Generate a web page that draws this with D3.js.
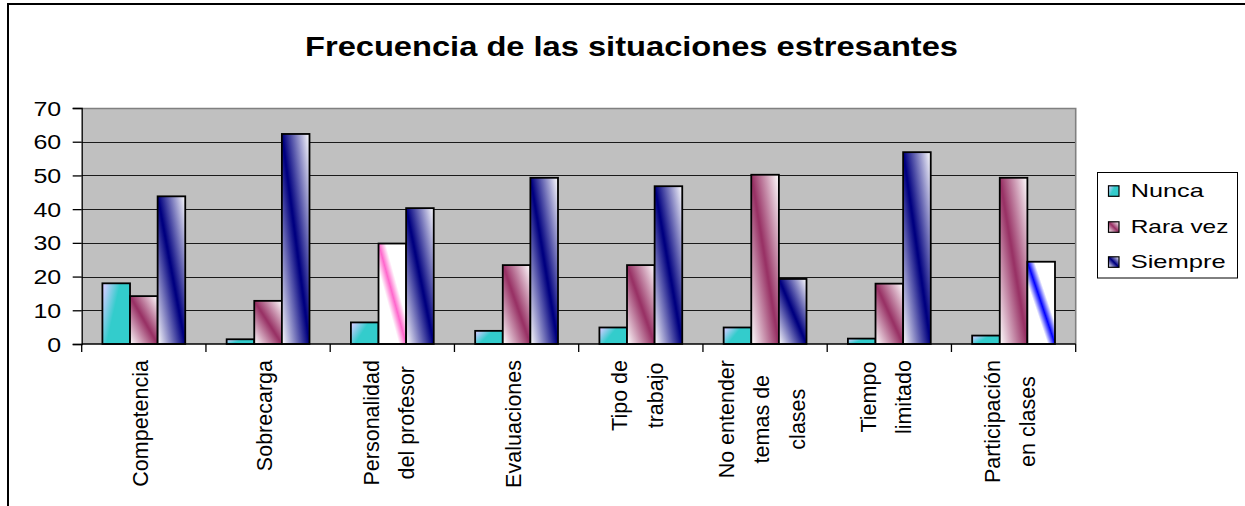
<!DOCTYPE html>
<html>
<head>
<meta charset="utf-8">
<script src="https://cdn.jsdelivr.net/npm/d3@7"></script>
<style>
  html, body { margin: 0; padding: 0; background: #fff; }
  svg { display: block; font-family: "Liberation Sans", Arial, sans-serif; }
</style>
</head>
<body>
<svg id="chart" width="1245" height="506"></svg>
<script>
// Frequency of stressful situations, by category and answer
const categories = [
  "Competencia",
  "Sobrecarga",
  "Personalidad\ndel profesor",
  "Evaluaciones",
  "Tipo de\ntrabajo",
  "No entender\ntemas de\nclases",
  "Tiempo\nlimitado",
  "Participación\nen clases"
];
const seriesNames = ["Nunca", "Rara vez", "Siempre"];
const nunca   = [18.0, 1.4, 6.4, 3.9, 4.9, 4.9, 1.6, 2.5];
const raraVez = [14.2, 12.8, 29.8, 23.4, 23.4, 50.2, 17.9, 49.3];
const siempre = [43.8, 62.3, 40.3, 49.3, 46.8, 19.3, 56.9, 24.4];
const yTicks  = [0, 10, 20, 30, 40, 50, 60, 70];
const titleText = "Frecuencia de las situaciones estresantes";

const seriesValues = [nunca, raraVez, siempre];

const svg = d3.select("#chart");
const plot = { left: 81.7, right: 1075.7, top: 108, bottom: 344 };

// outer chart frame (left and top edges visible)
svg.append("rect")
  .attr("x", 8).attr("y", 4)
  .attr("width", 1260).attr("height", 520)
  .attr("fill", "#fff").attr("stroke", "#000").attr("stroke-width", 2);

// gradient fills
const defs = svg.append("defs");
function stripe(id, color, edge, inner, outer) {
  const g = defs.append("linearGradient").attr("id", id)
    .attr("x1", 0).attr("y1", 1).attr("x2", 1).attr("y2", 0);
  g.append("stop").attr("offset", 0).attr("stop-color", edge);
  if (outer !== undefined) g.append("stop").attr("offset", 0.5 - outer).attr("stop-color", edge);
  g.append("stop").attr("offset", 0.5 - inner).attr("stop-color", color);
  g.append("stop").attr("offset", 0.5 + inner).attr("stop-color", color);
  if (outer !== undefined) g.append("stop").attr("offset", 0.5 + outer).attr("stop-color", edge);
  g.append("stop").attr("offset", 1).attr("stop-color", edge);
}
(function () {
  const g = defs.append("linearGradient").attr("id", "gNunca")
    .attr("x1", 0).attr("y1", 0.2).attr("x2", 0.8).attr("y2", 0.6);
  g.append("stop").attr("offset", 0).attr("stop-color", "#CCCCFF");
  g.append("stop").attr("offset", 0.55).attr("stop-color", "#33CCCC");
  g.append("stop").attr("offset", 1).attr("stop-color", "#33CCCC");
})();
stripe("gRara", "#993366", "#FFFFFF", 0.01);
stripe("gSiempre", "#000080", "#FFFFFF", 0.01);
stripe("gPink", "#FF66CC", "#FFFFFF", 0.0, 0.13);
stripe("gBlue", "#0000FF", "#FFFFFF", 0.0, 0.13);

const seriesFill = ["url(#gNunca)", "url(#gRara)", "url(#gSiempre)"];
// individually formatted points
const pointFill = { "1-2": "url(#gPink)", "2-7": "url(#gBlue)" };

// scales
const x0 = d3.scaleBand().domain(categories).range([plot.left, plot.right]).padding(0);
const x1 = d3.scaleBand().domain(seriesNames).range([0, x0.bandwidth()])
  .paddingInner(0).paddingOuter(0.75);
const y = d3.scaleLinear().domain([0, 70]).range([plot.bottom, plot.top]);

// plot area
svg.append("rect")
  .attr("x", plot.left).attr("y", plot.top)
  .attr("width", plot.right - plot.left).attr("height", plot.bottom - plot.top)
  .attr("fill", "#C0C0C0");

// gridlines
svg.append("g").selectAll("line")
  .data(yTicks.filter(t => t > 0 && t < 70))
  .join("line")
  .attr("x1", plot.left).attr("x2", plot.right)
  .attr("y1", d => Math.round(y(d)) + 0.5).attr("y2", d => Math.round(y(d)) + 0.5)
  .attr("stroke", "#1a1a1a").attr("stroke-width", 1);

// plot border (top and right)
svg.append("path")
  .attr("d", `M${plot.left},${plot.top + 0.5}H${plot.right}V${plot.bottom}`)
  .attr("fill", "none").attr("stroke", "#808080").attr("stroke-width", 1.6);

// bars
const groups = svg.append("g").selectAll("g")
  .data(categories)
  .join("g")
  .attr("transform", d => `translate(${x0(d)},0)`);

groups.selectAll("rect")
  .data((c, ci) => seriesNames.map((s, si) => ({ c, ci, s, si, v: seriesValues[si][ci] })))
  .join("rect")
  .attr("x", d => x1(d.s))
  .attr("width", x1.bandwidth())
  .attr("y", d => y(d.v))
  .attr("height", d => y(0) - y(d.v))
  .attr("fill", d => pointFill[d.si + "-" + d.ci] || seriesFill[d.si])
  .attr("stroke", "#000").attr("stroke-width", 1.8);

// y axis
const yAxis = svg.append("g")
  .attr("transform", `translate(${plot.left},0)`)
  .call(d3.axisLeft(y).tickValues(yTicks).tickSize(9).tickPadding(11.5));
yAxis.select(".domain").attr("stroke", "#000").attr("stroke-width", 1.3);
yAxis.selectAll(".tick line").attr("stroke", "#000").attr("stroke-width", 1.3);
yAxis.selectAll(".tick text")
  .attr("font-size", 19.5).attr("font-family", "Liberation Sans, Arial, sans-serif")
  .attr("fill", "#000").attr("dy", "0.36em")
  .attr("textLength", d => String(d).length * 13.9)
  .attr("lengthAdjust", "spacingAndGlyphs");

// x axis line and category boundary ticks
svg.append("line")
  .attr("x1", plot.left).attr("x2", plot.right)
  .attr("y1", plot.bottom).attr("y2", plot.bottom)
  .attr("stroke", "#000").attr("stroke-width", 1.3);
svg.append("g").selectAll("line")
  .data(categories.map(c => x0(c)).concat([x0.range()[1]]))
  .join("line")
  .attr("x1", d => d).attr("x2", d => d)
  .attr("y1", plot.bottom).attr("y2", plot.bottom + 8)
  .attr("stroke", "#000").attr("stroke-width", 1.3);

// rotated category labels
const lineGap = 35.5;
const labelTop = 360;
categories.forEach(c => {
  const lines = c.split("\n");
  const cx = x0(c) + x0.bandwidth() / 2 + 4;
  const g = svg.append("g");
  const texts = lines.map((ln, i) => g.append("text")
    .attr("font-size", 21.5).attr("text-anchor", "middle").attr("fill", "#000")
    .text(ln));
  const maxLen = d3.max(texts, t => t.node().getComputedTextLength());
  const cy = labelTop + maxLen / 2;
  texts.forEach((t, i) => {
    const bx = cx + (i - (lines.length - 1) / 2) * lineGap;
    t.attr("transform", `translate(${bx},${cy}) rotate(-90)`);
  });
});

// title
svg.append("text")
  .attr("x", 631.5).attr("y", 55.5)
  .attr("text-anchor", "middle")
  .attr("font-size", 27).attr("font-weight", "bold").attr("fill", "#000")
  .attr("textLength", 653).attr("lengthAdjust", "spacingAndGlyphs")
  .text(titleText);

// legend
const legend = svg.append("g");
legend.append("rect")
  .attr("x", 1097.5).attr("y", 172.5)
  .attr("width", 140).attr("height", 105.5)
  .attr("fill", "#fff").attr("stroke", "#000").attr("stroke-width", 1);
const legendBaselines = [197.3, 233.3, 268.3];
const legendWidths = [73, 97.7, 95];
const legendFill = ["url(#gNunca)", "url(#gRara)", "url(#gSiempre)"];
seriesNames.forEach((s, i) => {
  legend.append("rect")
    .attr("x", 1108.5).attr("y", legendBaselines[i] - 11.5)
    .attr("width", 10.5).attr("height", 10.5)
    .attr("fill", legendFill[i]).attr("stroke", "#000").attr("stroke-width", 1.2);
  legend.append("text")
    .attr("x", 1130.7).attr("y", legendBaselines[i])
    .attr("font-size", 18.5).attr("fill", "#000")
    .attr("textLength", legendWidths[i]).attr("lengthAdjust", "spacingAndGlyphs")
    .text(s);
});
</script>
</body>
</html>
